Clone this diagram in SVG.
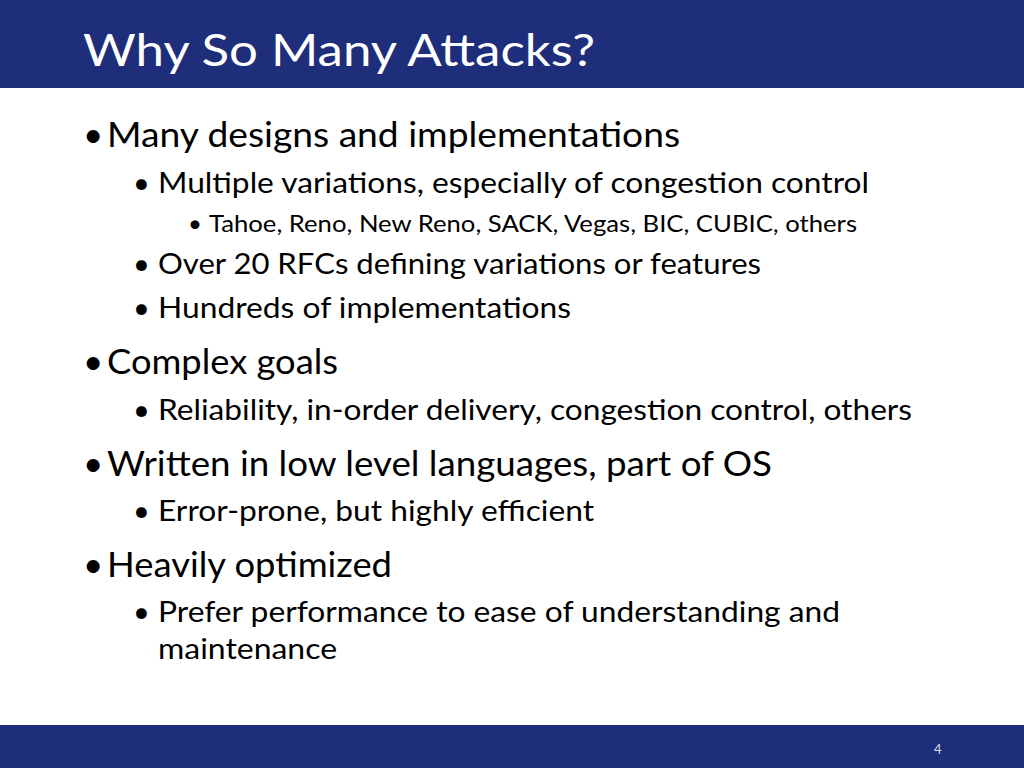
<svg xmlns="http://www.w3.org/2000/svg" width="1024" height="768" viewBox="0 0 1024 768">
<style>
text{font-family:Lato,"Open Sans",sans-serif;fill:#000}
.l1{font-size:35px}.l2{font-size:29px}.l3{font-size:24px}
</style>
<rect width="1024" height="768" fill="#fff"/>
<rect x="0" y="0" width="1024" height="88" fill="#1f2e7a"/>
<rect x="0" y="725" width="1024" height="43" fill="#1f2e7a"/>
<text x="83" y="66" style="font-size:44px;fill:#fff" textLength="512" lengthAdjust="spacingAndGlyphs">Why So Many Attacks?</text>
<text x="934" y="754" style="font-size:13px;fill:#ddd">4</text>
<g class="l1">
<text x="83" y="147">•</text><text x="107" y="147" textLength="573" lengthAdjust="spacingAndGlyphs">Many designs and implementations</text>
<text x="83" y="374">•</text><text x="107" y="374" textLength="231" lengthAdjust="spacingAndGlyphs">Complex goals</text>
<text x="83" y="476">•</text><text x="107" y="476" textLength="665" lengthAdjust="spacingAndGlyphs">Written in low level languages, part of OS</text>
<text x="83" y="577">•</text><text x="107" y="577" textLength="285" lengthAdjust="spacingAndGlyphs">Heavily optimized</text>
</g>
<g class="l2">
<text x="133" y="193">•</text><text x="158" y="193" textLength="711" lengthAdjust="spacingAndGlyphs">Multiple variations, especially of congestion control</text>
<text x="133" y="274">•</text><text x="158" y="274" textLength="603" lengthAdjust="spacingAndGlyphs">Over 20 RFCs defining variations or features</text>
<text x="133" y="318">•</text><text x="158" y="318" textLength="413" lengthAdjust="spacingAndGlyphs">Hundreds of implementations</text>
<text x="133" y="420">•</text><text x="158" y="420" textLength="754" lengthAdjust="spacingAndGlyphs">Reliability, in-order delivery, congestion control, others</text>
<text x="133" y="521">•</text><text x="158" y="521" textLength="436" lengthAdjust="spacingAndGlyphs">Error-prone, but highly efficient</text>
<text x="133" y="622">•</text><text x="158" y="622" textLength="682" lengthAdjust="spacingAndGlyphs">Prefer performance to ease of understanding and</text>
<text x="158" y="659" textLength="179" lengthAdjust="spacingAndGlyphs">maintenance</text>
</g>
<g class="l3">
<text x="188" y="232">•</text><text x="209" y="232" textLength="648" lengthAdjust="spacingAndGlyphs">Tahoe, Reno, New Reno, SACK, Vegas, BIC, CUBIC, others</text>
</g>
</svg>
